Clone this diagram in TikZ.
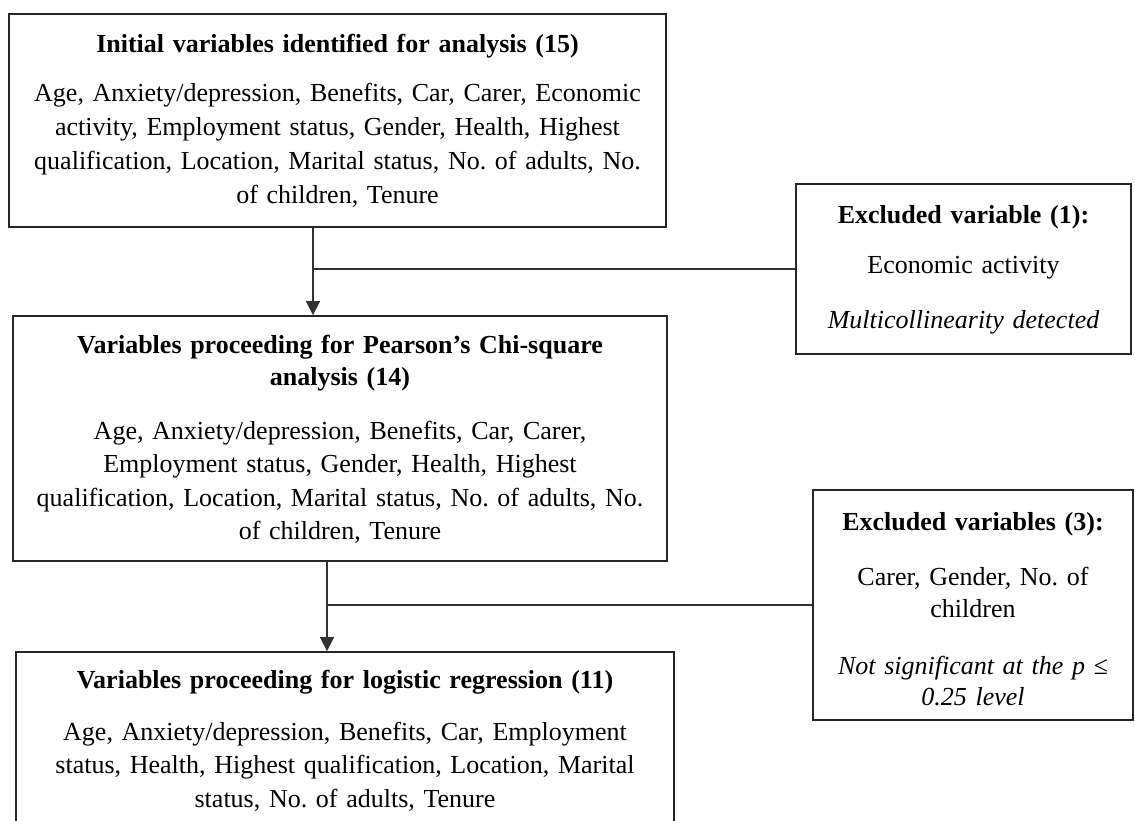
\documentclass[tikz,border=0pt]{standalone}
\usepackage{fontspec}
\setmainfont{Liberation Serif}
\usetikzlibrary{arrows.meta}
\begin{document}
\frenchspacing
\begin{tikzpicture}[x=1pt,y=-1pt,
  box/.style={draw=black!85, line width=1.8pt, inner sep=0pt},
  txt/.style={align=center, inner sep=0pt, anchor=base, text width=700pt, font=\fontsize{26}{33.5}\selectfont},
  ttl/.style={txt, font=\fontsize{26}{32}\selectfont\bfseries},
  itl/.style={txt, font=\fontsize{26}{31}\selectfont\itshape},
  conn/.style={line width=1.6pt, draw=black!80},
  arr/.style={conn, -{Triangle[width=14pt,length=14pt]}}]
\useasboundingbox (0,0) rectangle (1135,821);
\fill[white] (0,0) rectangle (1135,821);
% boxes
\node[box, minimum width=657pt, minimum height=213pt] (b1) at (337.5,120.5) {};
\node[box, minimum width=654pt, minimum height=245pt] (b2) at (340,438.5) {};
\node[box, minimum width=658pt, minimum height=200pt] (b3) at (345,752) {};
\node[box, minimum width=335pt, minimum height=170pt] (r1) at (963.5,269) {};
\node[box, minimum width=320pt, minimum height=230pt] (r2) at (973,605) {};
% texts box 1
\node[ttl] (b1t) at (337.5,53) {Initial variables identified for analysis (15)};
\node[txt, font=\fontsize{26}{33.7}\selectfont] (b1b) at (337.5,102) {Age, Anxiety/depression, Benefits, Car, Carer, Economic\\activity, Employment status, Gender, Health, Highest\\qualification, Location, Marital status, No. of adults, No.\\of children, Tenure};
% texts box 2
\node[ttl] (b2t) at (340,353) {Variables proceeding for Pearson’s Chi-square\\analysis (14)};
\node[txt] (b2b) at (340,439) {Age, Anxiety/depression, Benefits, Car, Carer,\\Employment status, Gender, Health, Highest\\qualification, Location, Marital status, No. of adults, No.\\of children, Tenure};
% texts box 3
\node[ttl] (b3t) at (345,688) {Variables proceeding for logistic regression (11)};
\node[txt] (b3b) at (345,740) {Age, Anxiety/depression, Benefits, Car, Employment\\status, Health, Highest qualification, Location, Marital\\status, No. of adults, Tenure};
% right box 1
\node[ttl] (r1t) at (963.5,223) {Excluded variable (1):};
\node[txt] (r1b) at (963.5,273) {Economic activity};
\node[itl] (r1i) at (963.5,328) {Multicollinearity detected};
% right box 2
\node[ttl] (r2t) at (973,530) {Excluded variables (3):};
\node[txt, font=\fontsize{26}{32}\selectfont] (r2b) at (973,585) {Carer, Gender, No. of\\children};
\node[itl] (r2i) at (973,674) {Not significant at the \textit{p} ≤\\0.25 level};
% connectors
\coordinate (c1) at (313,0);
\coordinate (c2) at (327,0);
\draw[arr] (b1.south -| c1) -- (b2.north -| c1);
\draw[conn] (c1 |- r1.west) -- (r1.west);
\draw[arr] (b2.south -| c2) -- (b3.north -| c2);
\draw[conn] (c2 |- r2.west) -- (r2.west);
\end{tikzpicture}
\end{document}
